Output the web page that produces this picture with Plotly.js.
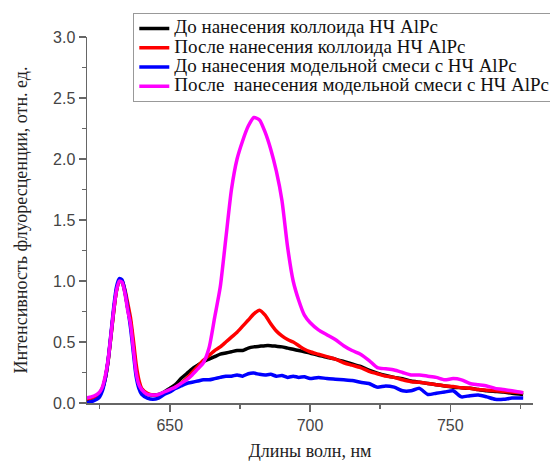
<!DOCTYPE html>
<html><head><meta charset="utf-8">
<script src="https://cdn.plot.ly/plotly-3.0.1.min.js"></script>
<style>html,body{margin:0;padding:0;background:#fff}#chart{width:550px;height:461px}</style>
</head><body><div id="chart"></div>
<script>
const wavelength = [620,622,624,625,626,627,628,629,630,631,632,633,634,635,636,637,638,639,640,642,644,646,648,650,652,654,656,658,660,662,664,666,668,670,672,674,676,678,680,682,684,686,688,690,692,694,696,698,700,703,706,709,712,715,718,721,724,727,730,733,736,739,742,745,748,751,754,757,760,763,766,769,772,776];

const beforeColloid = [0.02,0.04,0.06,0.08,0.12,0.2,0.34,0.54,0.75,0.92,1.0,0.99,0.91,0.78,0.66,0.47,0.27,0.16,0.11,0.07,0.065,0.07,0.09,0.12,0.15,0.2,0.24,0.28,0.31,0.34,0.36,0.38,0.4,0.41,0.42,0.43,0.43,0.45,0.46,0.465,0.47,0.47,0.465,0.46,0.45,0.44,0.43,0.42,0.41,0.39,0.375,0.36,0.34,0.32,0.3,0.27,0.245,0.225,0.21,0.2,0.18,0.17,0.16,0.15,0.14,0.13,0.125,0.12,0.11,0.1,0.095,0.09,0.08,0.07];

const afterColloid = [0.03,0.04,0.06,0.08,0.12,0.2,0.34,0.54,0.75,0.92,1.0,1.0,0.93,0.82,0.7,0.52,0.32,0.19,0.12,0.08,0.065,0.065,0.08,0.1,0.13,0.16,0.2,0.25,0.3,0.35,0.39,0.43,0.46,0.5,0.54,0.58,0.63,0.68,0.73,0.76,0.72,0.65,0.59,0.55,0.52,0.5,0.47,0.44,0.42,0.4,0.38,0.36,0.33,0.31,0.29,0.26,0.24,0.22,0.21,0.19,0.175,0.17,0.16,0.15,0.14,0.135,0.125,0.12,0.11,0.105,0.1,0.095,0.09,0.085];

const beforeMix = [0.0,0.01,0.03,0.05,0.1,0.2,0.35,0.56,0.78,0.95,1.02,1.01,0.92,0.78,0.62,0.42,0.22,0.12,0.07,0.04,0.03,0.04,0.07,0.09,0.12,0.14,0.16,0.17,0.18,0.19,0.19,0.2,0.21,0.22,0.22,0.23,0.22,0.24,0.245,0.235,0.23,0.235,0.22,0.225,0.21,0.22,0.21,0.215,0.2,0.21,0.2,0.195,0.19,0.185,0.17,0.16,0.13,0.14,0.13,0.1,0.1,0.12,0.07,0.08,0.09,0.1,0.05,0.06,0.065,0.05,0.03,0.03,0.04,0.04];

const afterMix = [0.04,0.05,0.07,0.09,0.13,0.22,0.35,0.55,0.76,0.92,1.0,0.99,0.9,0.76,0.65,0.45,0.25,0.15,0.11,0.07,0.065,0.07,0.09,0.11,0.13,0.16,0.19,0.23,0.28,0.33,0.45,0.7,0.95,1.35,1.75,2.0,2.15,2.27,2.34,2.32,2.22,2.08,1.9,1.66,1.28,1.0,0.84,0.72,0.66,0.6,0.56,0.52,0.47,0.43,0.4,0.35,0.29,0.28,0.27,0.25,0.23,0.23,0.22,0.21,0.19,0.2,0.19,0.16,0.15,0.14,0.12,0.11,0.1,0.085];

const seriesNames = [
  'До нанесения коллоида НЧ AlPc',
  'После нанесения коллоида НЧ AlPc',
  'До нанесения модельной смеси с НЧ AlPc',
  'После&nbsp; нанесения модельной смеси с НЧ AlPc'
];
const seriesData = [beforeColloid, afterColloid, beforeMix, afterMix];
const colors = ['#000000', '#ff0000', '#0000ff', '#ff00ff'];

const SERIF = 'Liberation Serif, Times New Roman, serif';
const SANS = 'Liberation Sans, Arial, sans-serif';

const traces = seriesData.map((y, i) => ({
  x: wavelength, y: y,
  name: '<span style="font-size:19px">' + seriesNames[i] + '</span>',
  type: 'scatter', mode: 'lines',
  line: {color: colors[i], width: 3.5, shape: 'spline', smoothing: 0.6}
}));

const axisCommon = {
  showline: true, linecolor: '#666', linewidth: 1.5,
  ticks: 'outside', ticklen: 7, tickwidth: 1.5, tickcolor: '#666',
  showgrid: false, zeroline: false,
  tickfont: {family: SANS, size: 16, color: '#444'},
  mirror: false
};

const layout = {
  width: 550, height: 461,
  margin: {l: 87, r: 17, t: 37, b: 58, autoexpand: false},
  paper_bgcolor: '#fff', plot_bgcolor: '#fff',
  showlegend: true,
  legend: {
    x: 1.05, y: 1.066, xanchor: 'right', yanchor: 'top',
    bgcolor: '#fff', bordercolor: '#999', borderwidth: 1,
    font: {family: SERIF, size: 12.5, color: '#111'}
  },
  xaxis: Object.assign({}, axisCommon, {
    range: [620.5, 779.5], tick0: 650, dtick: 50,
    minor: {dtick: 25, ticklen: 4, tickcolor: '#666', tickwidth: 1.5, ticks: 'outside'},
    title: {text: 'Длины волн, нм', standoff: 14,
      font: {family: SERIF, size: 18, color: '#222'}}
  }),
  yaxis: Object.assign({}, axisCommon, {
    range: [0, 3.0], tick0: 0, dtick: 0.5, tickformat: '.1f',
    minor: {dtick: 0.25, ticklen: 4, tickcolor: '#666', tickwidth: 1.5, ticks: 'outside'},
    title: {text: 'Интенсивность флуоресценции, отн. ед.', standoff: 20,
      font: {family: SERIF, size: 18, color: '#222'}}
  })
};

Plotly.newPlot('chart', traces, layout, {displayModeBar: false, staticPlot: true});
</script>
</body></html>
